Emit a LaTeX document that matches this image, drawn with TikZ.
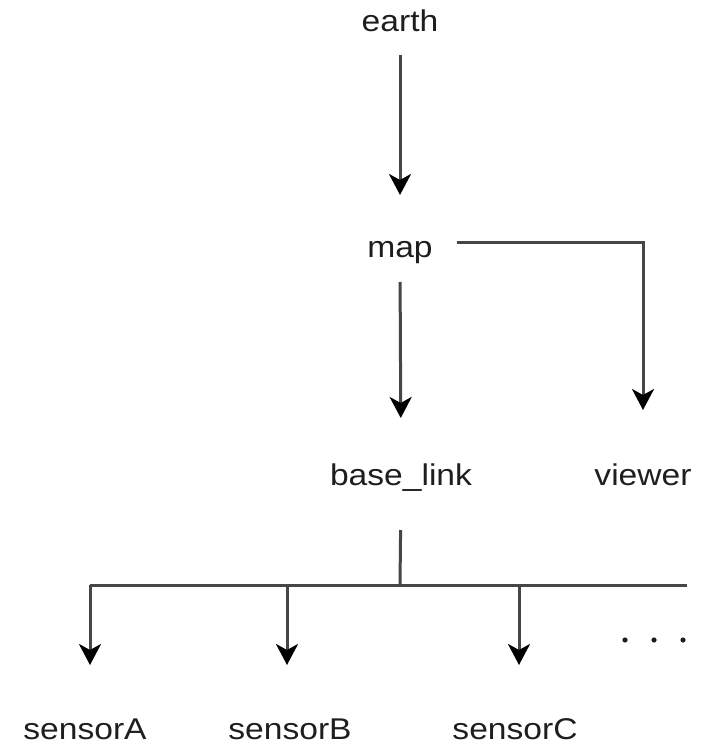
\documentclass[tikz,border=0pt]{standalone}
\usepackage{fontspec}
\setmainfont{Liberation Sans}[FakeStretch=1.12]
\usetikzlibrary{arrows.meta}
\definecolor{linegray}{RGB}{70,70,70}
\definecolor{textgray}{RGB}{30,30,30}
\begin{document}
\begin{tikzpicture}[x=1pt,y=-1pt,
  label/.style={inner sep=0pt, outer sep=0pt, anchor=base, font=\fontsize{30}{36}\selectfont,
    text=textgray, text height=22pt, text depth=7pt},
  leaf/.style={label, text depth=0pt},
  link/.style={draw=linegray, line width=3pt},
  tf/.style={link, -{Stealth[length=21pt, width=22pt, inset=6pt, color=black]}},
  dotmark/.style={fill=textgray, draw=none}]
  \useasboundingbox (0,0) rectangle (703,746);

  % frame labels
  \node[label] (earth)  at (400,32)  {earth};
  \node[label] (map)    at (400,257) {map};
  \node[label] (base)   at (401,485) {base\_link};
  \node[label] (viewer) at (643,485) {viewer};
  \node[leaf]  (sA)     at (85,739)  {sensorA};
  \node[leaf]  (sB)     at (290,739) {sensorB};
  \node[leaf]  (sC)     at (515,739) {sensorC};

  % bus below base_link
  \coordinate (j)    at (400,585);
  \coordinate (busL) at (90,585);
  \coordinate (busR) at (687,585);
  \coordinate (tA)   at (90,585);
  \coordinate (tB)   at (287,585);
  \coordinate (tC)   at (519,585);

  % transforms
  \draw[tf, shorten <=16pt, shorten >=40pt] (earth.south) -- (map.north);
  \draw[tf, shorten <=18pt, shorten >=45pt] (map.south) -- (base.north);
  \draw[tf, shorten <=24pt, shorten >=53pt] ([yshift=7.5pt]map.east) -| (viewer.north);
  \draw[link, shorten <=38pt] (base.south) -- (j);
  \draw[link, line cap=butt] (busL) -- (busR);
  \draw[tf, shorten >=52pt] (tA) -- (tA |- sA.north);
  \draw[tf, shorten >=52pt] (tB) -- (tB |- sB.north);
  \draw[tf, shorten >=52pt] (tC) -- (tC |- sC.north);

  % ellipsis for further sensors
  \fill[dotmark] (625,640) circle (2.6pt);
  \fill[dotmark] (654,640) circle (2.6pt);
  \fill[dotmark] (683,640) circle (2.6pt);
\end{tikzpicture}
\end{document}
